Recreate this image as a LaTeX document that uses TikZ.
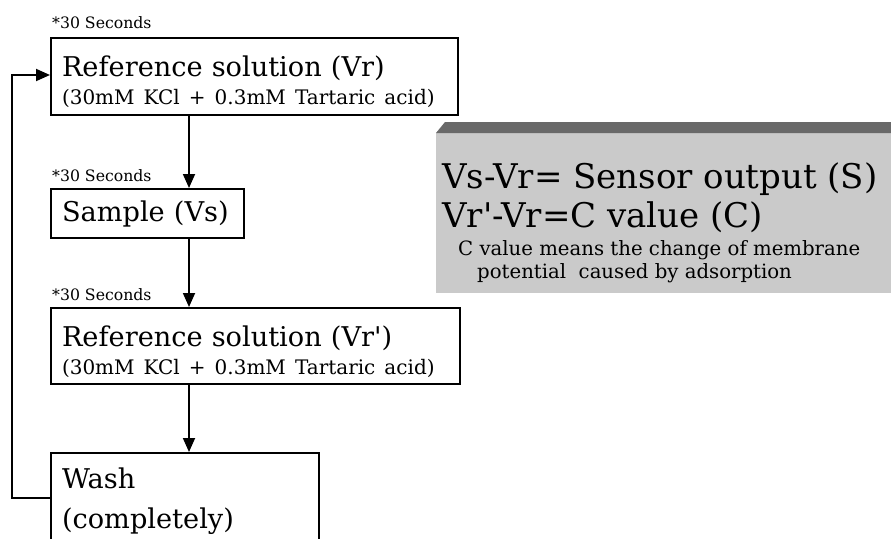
\documentclass[tikz,border=0pt]{standalone}
\usepackage{fontspec}
\setmainfont{DejaVu Serif}
\usetikzlibrary{arrows.meta}
\definecolor{panelgray}{RGB}{202,202,202}
\definecolor{bandgray}{RGB}{105,105,105}
\newcommand{\sizestep}{\fontsize{27.2}{34}\selectfont}
\newcommand{\sizemix}{\fontsize{20}{28}\selectfont}
\newcommand{\sizetime}{\fontsize{15.7}{20}\selectfont}
\newcommand{\sizeeq}{\fontsize{34}{40}\selectfont}
\newcommand{\sizenote}{\fontsize{19.7}{24}\selectfont}
\newcommand{\topstrut}{\rule{0pt}{32pt}}
\tikzset{
    common/.style={draw, line width=2pt, rectangle, anchor=north west, inner xsep=11pt, align=left},
    stepbox/.style={common, font=\sizestep},
    timing/.style={anchor=base west, inner sep=0pt, font=\sizetime},
    flow/.style={-{Triangle[length=14pt,width=12pt]}, line width=1.8pt},
    panel/.style={fill=panelgray, anchor=north west, minimum width=455pt, minimum height=160pt, inner sep=0pt},
    eqline/.style={anchor=base west, inner sep=0pt, font=\sizeeq},
    noteline/.style={anchor=base west, inner sep=0pt, font=\sizenote}
}
\begin{document}
\begin{tikzpicture}[x=1pt, y=-1pt]
    \useasboundingbox (0,0) rectangle (891,538);
    \clip (0,0) rectangle (891,538);

    % steps of one measurement
    \node[stepbox, text width=385pt, minimum height=77pt] (ref1) at (50,37)
        {\topstrut Reference solution (Vr)\\[-6pt]{\sizemix (30mM KCl + 0.3mM Tartaric acid)}};
    \node[stepbox, text width=171pt, minimum height=49pt] (sample) at (50,188) {Sample (Vs)};
    \node[stepbox, text width=387pt, minimum height=76pt] (ref2) at (50,307)
        {\topstrut Reference solution (Vr\textquotesingle)\\[-6pt]{\sizemix (30mM KCl + 0.3mM Tartaric acid)}};
    \node[stepbox, text width=246pt, inner ysep=3pt] (wash) at (50,452)
        {\topstrut Wash\\[6pt](completely)\rule[-20pt]{0pt}{20pt}};

    \node[timing] (t1) at ([shift={(2,-9)}]ref1.north west) {*30 Seconds};
    \node[timing] (t2) at ([shift={(2,-7)}]sample.north west) {*30 Seconds};
    \node[timing] (t3) at ([shift={(2,-7)}]ref2.north west) {*30 Seconds};

    \draw[flow] ([xshift=139pt]ref1.south west) -- ([xshift=139pt]sample.north west);
    \draw[flow] ([xshift=139pt]sample.south west) -- ([xshift=139pt]ref2.north west);
    \draw[flow] ([xshift=139pt]ref2.south west) -- ([xshift=139pt]wash.north west);
    \draw[flow] ([yshift=-46pt]wash.north west) -- ++(-38,0) |- ([yshift=-38pt]ref1.north west);

    % definitions panel
    \node[panel] (panel) at (436,133) {};
    \fill[bandgray] ([xshift=9pt,yshift=11pt]panel.north west) -- ([yshift=11pt]panel.north east)
        -- (panel.north east) -- (panel.north west) -- cycle;
    \node[eqline] (eqs) at ([shift={(6,55)}]panel.north west) {Vs-Vr= Sensor output (S)};
    \node[eqline] (eqc) at ([shift={(6,94)}]panel.north west) {Vr\textquotesingle-Vr=C value (C)};
    \node[noteline] (note1) at ([shift={(22,122)}]panel.north west) {C value means the change of membrane};
    \node[noteline] (note2) at ([shift={(41,145)}]panel.north west) {potential~ caused by adsorption};
\end{tikzpicture}
\end{document}
